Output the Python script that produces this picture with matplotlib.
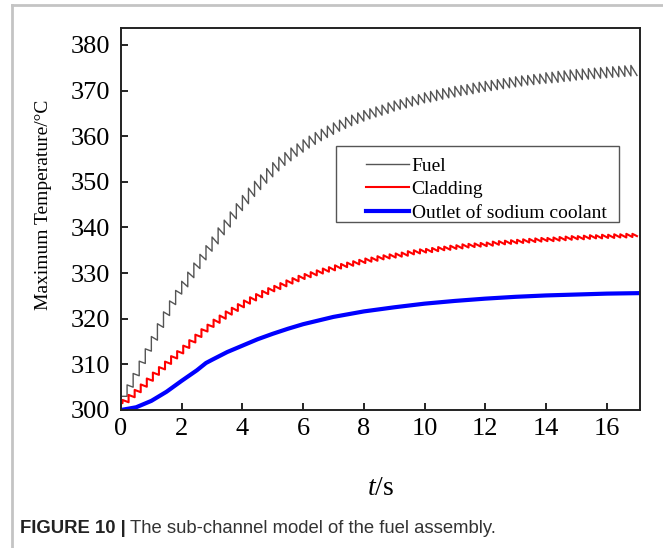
import numpy as np
import matplotlib
matplotlib.use('Agg')
from matplotlib import pyplot as plt
from matplotlib.patches import Rectangle

# ---- data ----
# fuel: jump every 0.2 s, value just before (lo) and just after (hi) each jump
fuel_jump_t = np.arange(1, 85) * 0.2
fuel_start = 303.0
fuel_end = 373.3
fuel_lo = [303.0, 305.0, 307.5, 310.2, 312.9, 315.3, 318.1, 320.7, 323.1, 325.4,
           327.0, 329.0, 331.0, 332.9, 334.8, 336.4, 338.4, 340.1, 341.9, 343.7,
           345.2, 346.8, 348.3, 349.7, 351.1, 352.4, 353.6, 354.6, 355.6, 356.5,
           357.4, 358.2, 359.0, 359.7, 360.4, 361.1, 361.7, 362.3, 362.8, 363.3,
           363.8, 364.2, 364.6, 365.0, 365.5, 365.9, 366.2, 366.6, 366.9, 367.3,
           367.5, 367.8, 368.1, 368.4, 368.6, 368.9, 369.1, 369.3, 369.6, 369.8,
           370.0, 370.2, 370.4, 370.6, 370.8, 371.0, 371.2, 371.3, 371.5, 371.6,
           371.7, 371.8, 372.0, 372.1, 372.3, 372.4, 372.5, 372.6, 372.7, 372.8,
           372.9, 373.0, 373.1, 373.2]
fuel_hi = [305.5, 308.0, 310.7, 313.4, 316.1, 318.9, 321.5, 323.9, 326.2, 328.2,
           330.2, 332.2, 334.1, 336.0, 337.9, 339.9, 341.6, 343.4, 345.2, 347.0,
           348.6, 350.1, 351.5, 352.9, 354.2, 355.4, 356.4, 357.4, 358.3, 359.2,
           360.0, 360.8, 361.5, 362.2, 362.9, 363.5, 364.1, 364.6, 365.1, 365.6,
           366.0, 366.4, 366.8, 367.3, 367.7, 368.0, 368.4, 368.7, 369.1, 369.5,
           369.8, 370.1, 370.4, 370.6, 370.9, 371.1, 371.3, 371.6, 371.8, 372.0,
           372.2, 372.4, 372.6, 372.8, 373.0, 373.2, 373.3, 373.5, 373.6, 373.9,
           374.0, 374.2, 374.3, 374.5, 374.6, 374.7, 374.8, 374.9, 375.0, 375.1,
           375.2, 375.3, 375.4, 375.5]

# cladding: jumps at 0.05 s + every 0.2 s
clad_jump_t = np.arange(85) * 0.2 + 0.05
clad_start = 301.5
clad_end = 338.1
clad_lo = [301.5, 301.7, 302.8, 303.9, 305.1, 306.4, 307.7, 308.9, 310.1, 311.3,
           312.4, 313.6, 314.8, 316.0, 317.2, 318.2, 319.1, 320.0, 320.9, 321.7,
           322.5, 323.3, 324.0, 324.7, 325.4, 326.0, 326.5, 327.1, 327.7, 328.2,
           328.7, 329.1, 329.5, 329.9, 330.3, 330.6, 331.0, 331.3, 331.6, 331.9,
           332.2, 332.5, 332.7, 333.0, 333.2, 333.4, 333.6, 333.8, 334.1, 334.3,
           334.5, 334.6, 334.8, 335.0, 335.1, 335.3, 335.4, 335.6, 335.7, 335.8,
           335.9, 336.0, 336.2, 336.3, 336.4, 336.5, 336.6, 336.7, 336.8, 336.9,
           337.0, 337.0, 337.1, 337.2, 337.3, 337.4, 337.4, 337.5, 337.6, 337.6,
           337.7, 337.7, 337.8, 337.8, 337.9]
clad_hi = [302.2, 303.3, 304.4, 305.6, 306.9, 308.2, 309.4, 310.6, 311.8, 312.9,
           314.1, 315.3, 316.5, 317.7, 318.7, 319.8, 320.7, 321.6, 322.4, 323.2,
           324.0, 324.7, 325.4, 326.1, 326.7, 327.2, 327.8, 328.4, 328.9, 329.4,
           329.8, 330.2, 330.6, 331.0, 331.3, 331.7, 332.0, 332.3, 332.6, 332.9,
           333.2, 333.4, 333.7, 333.9, 334.1, 334.3, 334.5, 334.8, 335.0, 335.2,
           335.3, 335.5, 335.7, 335.8, 336.0, 336.1, 336.3, 336.4, 336.5, 336.6,
           336.7, 336.9, 337.0, 337.1, 337.2, 337.3, 337.4, 337.5, 337.6, 337.7,
           337.7, 337.8, 337.9, 338.0, 338.1, 338.1, 338.2, 338.3, 338.3, 338.4,
           338.4, 338.5, 338.5, 338.6, 338.6]

# outlet of sodium coolant (smooth)
cool_t = [0, 0.5, 1.0, 1.5, 2.0, 2.5, 2.8, 3.0, 3.5, 4.0, 4.5, 5.0, 5.5, 6.0,
          6.5, 7.0, 7.5, 8.0, 9.0, 10.0, 11.0, 12.0, 13.0, 14.0, 15.0, 16.0, 17.0]
cool_T = [300.0, 300.6, 302.0, 304.0, 306.4, 308.7, 310.3, 311.0, 312.7, 314.1,
          315.5, 316.7, 317.8, 318.8, 319.6, 320.4, 321.0, 321.6, 322.5, 323.3,
          323.9, 324.4, 324.8, 325.1, 325.3, 325.5, 325.6]

labels = ['Fuel', 'Cladding', 'Outlet of sodium coolant']
x_ticks = [0, 2, 4, 6, 8, 10, 12, 14, 16]
y_ticks = [300, 310, 320, 330, 340, 350, 360, 370, 380]


def sawtooth_path(jump_t, lo, hi, start, end, t_end=17.0):
    x = np.concatenate([[0.0], np.repeat(jump_t, 2), [t_end]])
    y = np.concatenate([[start], np.column_stack([lo, hi]).ravel(), [end]])
    return x, y


plt.rcParams['font.family'] = ['Liberation Serif', 'DejaVu Serif']
plt.rcParams['mathtext.fontset'] = 'custom'
plt.rcParams['mathtext.rm'] = 'Liberation Serif'
plt.rcParams['mathtext.it'] = 'Liberation Serif:italic'

W, H = 663, 548
fig = plt.figure(figsize=(W / 100, H / 100), dpi=100)
ax = fig.add_axes([121 / W, 1 - 410 / H, (640 - 121) / W, (410 - 28) / H])

fx, fy = sawtooth_path(fuel_jump_t, fuel_lo, fuel_hi, fuel_start, fuel_end)
cx, cy = sawtooth_path(clad_jump_t, clad_lo, clad_hi, clad_start, clad_end)

l1, = ax.plot(fx, fy, color='#555555', lw=1.0)
l2, = ax.plot(cx, cy, color='#ff0000', lw=1.5)
l3, = ax.plot(cool_t, cool_T, color='#0000ff', lw=3.0)

ax.set_xlim(0, 17.1)
ax.set_ylim(300, 383.7)
ax.set_xticks(x_ticks)
ax.set_yticks(y_ticks)
ax.tick_params(direction='in', length=5, width=1.2, labelsize=19,
               top=False, right=False)
ax.tick_params(axis='y', pad=8)
ax.tick_params(axis='x', pad=6)
for sp in ax.spines.values():
    sp.set_linewidth(1.4)
    sp.set_color('#222222')

ax.set_xlabel(r'$t$/s', fontsize=20, labelpad=26)
fig.text(44 / W, 1 - 205 / H, 'Maximum Temperature/°C', rotation=90,
         ha='center', va='center', fontsize=14)

leg = fig.legend([l1, l2, l3], labels, loc='upper left',
                 bbox_to_anchor=(366 / W, 1 - 157 / H), frameon=False,
                 fontsize=14, handlelength=2.2, handletextpad=0.15,
                 labelspacing=0.3, borderpad=0, borderaxespad=0)
fig.patches.append(Rectangle((336 / W, 1 - 222 / H), (619 - 336) / W, 76 / H,
                             transform=fig.transFigure, fill=False,
                             edgecolor='#555555', lw=1.0))

# page frame lines
fig.add_artist(plt.Line2D([12 / W, 12 / W], [0, 1 - 5 / H],
                          transform=fig.transFigure, color='#c4c4c4', lw=2))
fig.add_artist(plt.Line2D([12 / W, 1], [1 - 5 / H, 1 - 5 / H],
                          transform=fig.transFigure, color='#c4c4c4', lw=2))

# caption
t1 = fig.text(20 / W, 1 - 533 / H, 'FIGURE 10 |', fontsize=13.3,
              family='Liberation Sans', weight='bold', color='#222222')
fig.canvas.draw()
bb = t1.get_window_extent()
fig.text(bb.x1 / W + 4 / W, 1 - 533 / H, 'The sub-channel model of the fuel assembly.',
         fontsize=13.3, family='Liberation Sans', color='#333333')

fig.savefig('out.png', dpi=100)
